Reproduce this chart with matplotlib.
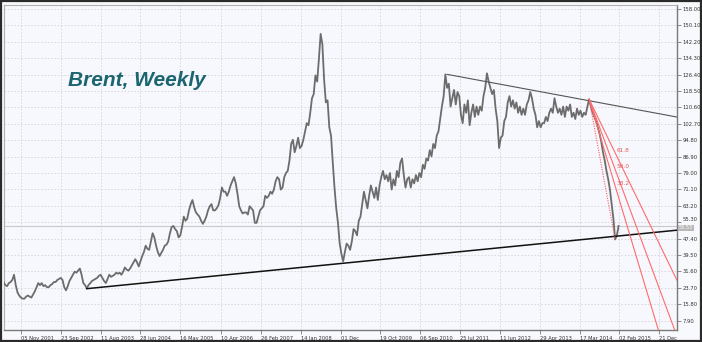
import matplotlib
matplotlib.use('Agg')
import matplotlib.pyplot as plt
import matplotlib.dates as mdates
import matplotlib.transforms as mtransforms
from matplotlib.patches import Rectangle
import numpy as np
import pandas as pd

start_date = '2001-06-18'
prices = [
    26.5, 25, 24.5, 26, 26.5, 27.5, 30, 25, 21.5, 20, 19, 18.5, 18.5, 19.5, 20, 19.5, 19, 20.5, 22, 24, 26, 25, 26, 24.5, 25, 24,
    24, 25, 25.5, 26.5, 26.5, 27.5, 28, 28.5, 27.5, 24, 22.5, 24.5, 27, 28.5, 30, 31.5, 31, 32, 33, 30, 26, 25, 23.5, 25, 26, 27,
    27.5, 28, 28.5, 29.5, 30, 28.5, 27, 26, 28, 30, 29, 29.5, 30, 31, 30.5, 31, 30, 31.5, 33.5, 32.5, 32, 33, 34.5, 36, 37.5, 36,
    34, 36.5, 39, 41, 44, 42.5, 42, 46, 50, 48, 44, 41, 39, 40.5, 42, 44, 44.5, 46, 50, 53, 53.5, 52, 51, 48, 49, 53,
    58, 56, 57, 61, 64, 66, 62.5, 60, 59, 58, 56, 54.5, 56, 58, 61, 63, 64, 61, 61, 62, 63.5, 67, 72, 70, 70, 68,
    70, 73, 75, 77, 74, 69, 63, 61, 59.5, 60, 60, 59, 63, 62, 61, 55, 55, 58, 61, 62, 63, 68, 67, 68, 70, 69,
    71, 75, 77, 76, 71, 72, 77, 79, 80, 85, 93, 95, 89, 92, 96, 91, 92, 95, 99, 103, 102, 108, 115, 117, 126, 123,
    134, 146, 141, 124, 113, 114, 101, 97, 84, 72, 62, 55, 45, 40, 36.5, 41, 45, 44, 42, 46, 52, 51, 49, 56, 58, 64,
    70, 66, 62, 68, 73, 70, 67, 72, 66, 73, 77, 80, 76, 78, 75, 79, 71, 76, 73, 80, 77, 84, 86, 78, 72, 76,
    77, 72, 76, 74, 78, 75, 79, 77, 83, 81, 86, 85, 90, 87, 93, 91, 97, 99, 105, 111, 116, 126.5, 120, 122, 111, 115,
    119, 112, 118, 116, 107, 103, 112, 108, 114, 102, 108, 112, 106, 111, 107, 111, 109, 116, 120, 127, 123, 120, 117, 119, 110, 104,
    91, 96, 97, 104, 106, 113, 116, 111, 114, 110, 113, 108, 111, 107, 110, 107, 112, 114, 118, 115, 110, 107, 101, 104, 101, 103,
    103, 106, 104, 108, 110, 108, 115, 111, 108, 110, 107, 111, 106, 111, 109, 112, 106, 108, 105, 110, 107, 109, 106, 108, 107, 111,
    114.5, 111, 108, 106, 104, 101, 98, 94, 89, 85, 80, 76, 71, 64, 57, 47, 49, 53.5,
]

tick_dates = ['2001-11-05', '2002-09-23', '2003-08-11', '2004-06-28', '2005-05-16', '2006-04-10',
              '2007-02-26', '2008-01-14', '2008-12-01', '2009-10-19', '2010-09-06', '2011-07-25',
              '2012-06-11', '2013-04-29', '2014-03-17', '2015-02-02', '2015-12-21']
tick_labels = ['05 Nov 2001', '23 Sep 2002', '11 Aug 2003', '28 Jun 2004', '16 May 2005', '10 Apr 2006',
               '26 Feb 2007', '14 Jan 2008', '01 Dec', '19 Oct 2009', '06 Sep 2010', '25 Jul 2011',
               '11 Jun 2012', '29 Apr 2013', '17 Mar 2014', '02 Feb 2015', '21 Dec']
y_ticks = [7.9, 15.8, 23.7, 31.6, 39.5, 47.4, 55.3, 63.2, 71.1, 79.0, 86.9, 94.8,
           102.7, 110.6, 118.5, 126.4, 134.3, 142.2, 150.1, 158.0]

# trend lines (date, price)
support = [('2003-04-21', 23.3), ('2015-01-12', 48.6)]
resistance = [('2011-04-11', 126.5), ('2014-06-02', 113.8)]
fan_start = ('2014-06-02', 114.5)
fan_end = ('2014-12-29', 47.0)
fan_levels = [0.382, 0.5, 0.618]
last_price = 53.53

dates = pd.date_range(start_date, periods=len(prices), freq='14D')

fig = plt.figure(figsize=(7.02, 3.42), dpi=100)
fig.patch.set_facecolor('#f8f9fc')
ax = fig.add_axes([4/702, 12/342, 673/702, 325/342])
ax.set_facecolor('#f7f8fd')

x0 = mdates.date2num(pd.Timestamp('2001-06-21'))
x1 = mdates.date2num(pd.Timestamp('2016-05-12'))
ax.set_xlim(x0, x1)
ax.set_ylim(3.4, 159.9)

ax.plot(dates, prices, color='#6c6c6c', lw=1.3, zorder=3)

def extend(p, q, xmax):
    (xa, ya), (xb, yb) = p, q
    k = (yb - ya) / (xb - xa)
    return [xa, xmax], [ya, ya + k * (xmax - xa)]

s = [(mdates.date2num(pd.Timestamp(d)), v) for d, v in support]
xs, ys = extend(s[0], s[1], x1)
ax.plot(xs, ys, color='#111111', lw=1.1, zorder=4)

r = [(mdates.date2num(pd.Timestamp(d)), v) for d, v in resistance]
xs, ys = extend(r[0], r[1], x1)
ax.plot(xs, ys, color='#555555', lw=0.8, zorder=4)

# fibonacci fan
px, py = mdates.date2num(pd.Timestamp(fan_start[0])), fan_start[1]
lx, ly = mdates.date2num(pd.Timestamp(fan_end[0])), fan_end[1]
ax.plot([px, lx], [py, ly], color='#ff5c5c', lw=0.8, ls=(0, (1, 1.2)), zorder=5)
for lev in fan_levels:
    qy = ly + lev * (py - ly)
    k = (qy - py) / (lx - px)
    xe = px + 10 * (lx - px)
    ax.plot([px, xe], [py, py + k * (xe - px)], color='#ff6b6b', lw=0.8, zorder=5, clip_on=True)
    ax.annotate('%.1f' % (lev * 100), (lx, qy), xytext=(1, 0), textcoords='offset points',
                fontsize=4.2, color='#e85a5a', ha='left', va='bottom', zorder=6)

# current price line and label
ax.axhline(last_price, color='#c9c9c9', lw=0.8, zorder=2)
trans = mtransforms.blended_transform_factory(ax.transAxes, ax.transData)
ax.text(1.003, last_price - 0.9, '%.2f' % last_price, transform=trans, fontsize=3.6, color='white',
        va='center', ha='left', bbox=dict(fc='#b8b8b8', ec='none', pad=0.4), zorder=7)

ax.set_xticks([mdates.date2num(pd.Timestamp(d)) for d in tick_dates])
ax.set_xticklabels(tick_labels, fontsize=3.7, color='#333333', ha='left')
ax.set_yticks(y_ticks)
ax.set_yticklabels(['%.2f' % v for v in y_ticks], fontsize=3.8, color='#333333')
ax.yaxis.tick_right()
ax.tick_params(axis='both', length=3, width=0.6, color='#777777', pad=1)
# the 55.30 label sits just above the last-price box
lab = ax.get_yticklabels()[6]
lab.set_transform(lab.get_transform() + mtransforms.ScaledTranslation(0, 2.5 / 72, fig.dpi_scale_trans))
ax.grid(True, color='#d4d4d8', lw=0.6, ls=(0, (2, 2)))
ax.set_axisbelow(True)

for side in ['right', 'bottom']:
    ax.spines[side].set_color('#7a7a7a')
    ax.spines[side].set_linewidth(1.0)
for side in ['left', 'top']:
    ax.spines[side].set_color('#b0b0b0')
    ax.spines[side].set_linewidth(0.8)

ax.text(0.198, 0.769, 'Brent, Weekly', transform=ax.transAxes, fontsize=15, family='Liberation Sans',
        weight='bold', style='italic', color='#1b6570', ha='center', va='center')

fig.add_artist(Rectangle((0.0015, 0.003), 0.997, 0.994, transform=fig.transFigure, fill=False,
                         ec='#2a2a2a', lw=1.6))

plt.savefig('out.png', dpi=100, facecolor=fig.get_facecolor())
